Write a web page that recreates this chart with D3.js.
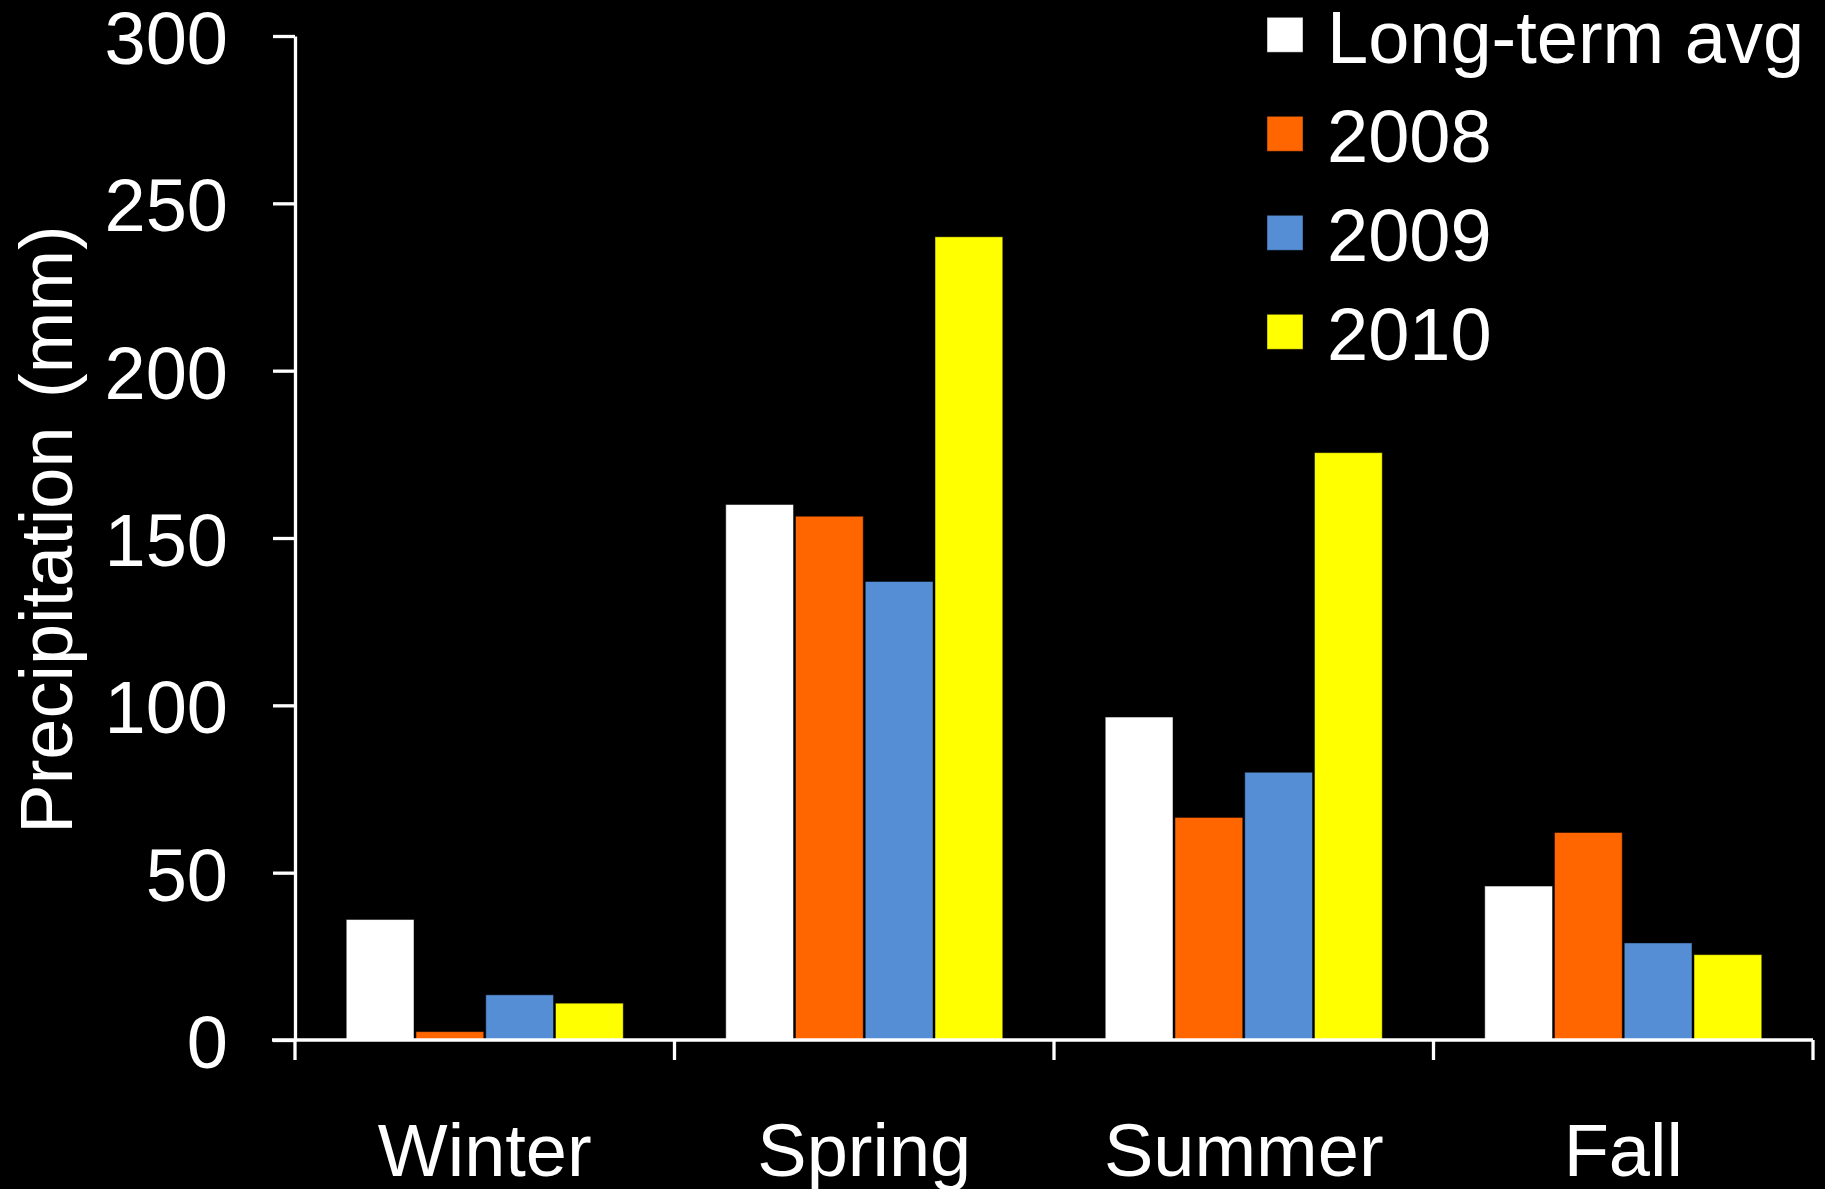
<!DOCTYPE html>
<html>
<head>
<meta charset="utf-8">
<script src="https://cdn.jsdelivr.net/npm/d3@7"></script>
<style>
  html, body { margin: 0; padding: 0; background: #000; }
  svg { display: block; }
  text { font-family: "Liberation Sans", Arial, sans-serif; fill: #fff; }
</style>
</head>
<body>
<svg id="chart" width="1825" height="1189"></svg>
<script>
const categories = ["Winter", "Spring", "Summer", "Fall"];
const seriesNames = ["Long-term avg", "2008", "2009", "2010"];
const seriesColors = ["#FFFFFF", "#FF6600", "#558ED5", "#FFFF00"];
const longTermAvg = [36, 160, 96.5, 46];
const y2008 = [2.5, 156.5, 66.5, 62];
const y2009 = [13.5, 137, 80, 29];
const y2010 = [11, 240, 175.5, 25.5];
const yTicks = [0, 50, 100, 150, 200, 250, 300];
const yTitle = "Precipitation (mm)";

const seriesValues = [longTermAvg, y2008, y2009, y2010];

(function () {
const svg = d3.select("#chart");
const W = 1825, H = 1189;
svg.append("rect").attr("width", W).attr("height", H).attr("fill", "#000");

const mLeft = 295, mRight = 1813, mTop = 36, mBottom = 1040;

const x0 = d3.scaleBand().domain(categories).range([mLeft, mRight]).paddingInner(0).paddingOuter(0);
const groupW = 277;
const x1 = d3.scaleBand().domain(seriesNames).range([0, groupW]).paddingInner(0.029).paddingOuter(0);
const y = d3.scaleLinear().domain([0, 300]).range([mBottom, mTop]);
const color = d3.scaleOrdinal().domain(seriesNames).range(seriesColors);

// bars
const groups = svg.append("g").selectAll("g")
  .data(categories)
  .join("g")
  .attr("transform", c => `translate(${x0(c) + (x0.bandwidth() - groupW) / 2},0)`);

groups.selectAll("rect")
  .data((c, ci) => seriesNames.map((s, si) => ({ s, v: seriesValues[si][ci] })))
  .join("rect")
  .attr("x", d => x1(d.s))
  .attr("y", d => y(d.v))
  .attr("width", x1.bandwidth())
  .attr("height", d => y(0) - y(d.v))
  .attr("fill", d => color(d.s))
  .attr("stroke", "rgba(0,0,0,0.45)")
  .attr("stroke-width", 1);

// y axis
const yAxis = svg.append("g")
  .attr("transform", `translate(${mLeft},0)`)
  .call(d3.axisLeft(y).tickValues(yTicks).tickSize(22).tickPadding(45).tickSizeOuter(0));
yAxis.select(".domain").attr("stroke", "#fff").attr("stroke-width", 3.3);
yAxis.selectAll(".tick line").attr("stroke", "#fff").attr("stroke-width", 3.3);
yAxis.selectAll(".tick text")
  .attr("font-size", 74)
  .attr("dy", "0.37em")
  .style("font-family", '"Liberation Sans", Arial, sans-serif')
  .attr("fill", "#fff");

// x axis line
svg.append("line")
  .attr("x1", mLeft - 23).attr("x2", mRight)
  .attr("y1", y(0)).attr("y2", y(0))
  .attr("stroke", "#fff").attr("stroke-width", 3.3);

// x boundary ticks
const bounds = categories.map(c => x0(c)).concat([x0.range()[1]]);
svg.append("g").selectAll("line")
  .data(bounds)
  .join("line")
  .attr("x1", d => d).attr("x2", d => d)
  .attr("y1", y(0)).attr("y2", y(0) + 20)
  .attr("stroke", "#fff").attr("stroke-width", 3.3);

// category labels
svg.append("g").selectAll("text")
  .data(categories)
  .join("text")
  .attr("x", c => x0(c) + x0.bandwidth() / 2)
  .attr("y", 1176)
  .attr("text-anchor", "middle")
  .attr("font-size", 74)
  .text(c => c);

// y title
svg.append("text")
  .attr("transform", `translate(72,${(227 + 832) / 2}) rotate(-90)`)
  .attr("text-anchor", "middle")
  .attr("font-size", 74)
  .attr("word-spacing", 8)
  .text(yTitle);

// legend
const legend = svg.append("g").attr("transform", "translate(1267,17.3)");
const li = legend.selectAll("g")
  .data(seriesNames)
  .join("g")
  .attr("transform", (d, i) => `translate(0,${i * 99})`);
li.append("rect")
  .attr("width", 36).attr("height", 35)
  .attr("fill", d => color(d))
  .attr("stroke", "rgba(0,0,0,0.45)").attr("stroke-width", 1);
li.append("text")
  .attr("x", 60)
  .attr("y", 45.5)
  .attr("font-size", 74)
  .text(d => d);
})();
</script>
</body>
</html>
